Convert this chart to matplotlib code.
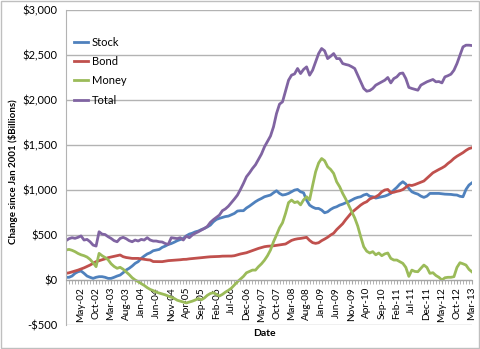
import matplotlib
matplotlib.use("Agg")
import matplotlib.pyplot as plt
import matplotlib.ticker as mticker
from matplotlib.patches import Rectangle
import pandas as pd

# monthly values, Dec-01 .. Mar-13 ($ billions, change since Jan 2001)
months = pd.date_range("2001-12-01", "2013-03-01", freq="MS")

stock = [30, 30, 44, 74, 92, 100, 74, 44, 30, 18, 30, 37, 37, 30, 18, 18, 30, 44, 55, 81,
         111, 130, 155, 185, 204, 240, 266, 289, 303, 325, 333, 340, 363, 377, 395, 405, 420, 437, 450, 462,
         490, 510, 520, 535, 544, 560, 573, 590, 610, 647, 673, 685, 695, 705, 710, 725, 740, 766, 770, 770,
         800, 821, 845, 870, 890, 906, 925, 935, 944, 969, 992, 962, 944, 950, 962, 980, 999, 1006, 980, 969,
         888, 832, 810, 795, 795, 777, 747, 758, 784, 803, 814, 832, 843, 858, 870, 888, 906, 918, 925, 944,
         954, 930, 925, 910, 918, 925, 932, 945, 962, 999, 1029, 1066, 1092, 1066, 1018, 980, 965, 954, 932, 918,
         932, 962, 962, 962, 962, 958, 954, 952, 951, 946, 944, 930, 925, 1006, 1055, 1080]

bond = [74, 80, 90, 100, 110, 122, 135, 150, 166, 185, 204, 215, 225, 235, 248, 256, 263, 270, 278, 259,
        250, 245, 240, 240, 240, 235, 229, 225, 222, 205, 204, 204, 204, 210, 215, 218, 220, 222, 225, 229,
        230, 235, 238, 240, 245, 248, 252, 255, 258, 259, 260, 262, 265, 266, 266, 266, 270, 280, 289, 296,
        303, 315, 326, 338, 351, 360, 370, 375, 377, 380, 385, 389, 395, 400, 420, 440, 451, 458, 462, 468,
        474, 440, 415, 407, 414, 437, 455, 475, 500, 520, 560, 592, 625, 670, 710, 750, 777, 805, 833, 855,
        870, 900, 915, 925, 945, 980, 1000, 1006, 969, 975, 985, 992, 1005, 1030, 1055, 1050, 1060, 1073, 1085, 1100,
        1130, 1160, 1191, 1210, 1228, 1245, 1265, 1295, 1320, 1351, 1375, 1395, 1415, 1440, 1460, 1470]

money = [333, 340, 330, 315, 295, 280, 270, 255, 229, 192, 148, 296, 270, 250, 225, 180, 150, 130, 141, 120,
         90, 60, 25, 0, -18, -40, -60, -85, -105, -118, -135, -145, -155, -165, -178, -190, -205, -225, -235, -245,
         -255, -245, -235, -222, -205, -220, -200, -170, -150, -141, -160, -178, -160, -135, -115, -90, -55, -20, 10, 40,
         80, 95, 110, 110, 148, 180, 220, 270, 333, 425, 500, 580, 636, 740, 860, 888, 860, 870, 835, 890,
         925, 890, 1050, 1202, 1300, 1350, 1325, 1258, 1228, 1184, 1091, 1036, 962, 900, 830, 760, 690, 600, 480, 370,
         320, 300, 315, 280, 300, 270, 290, 300, 240, 222, 222, 204, 185, 140, 40, 110, 95, 92, 130, 166,
         140, 74, 81, 50, 30, 0, 25, 30, 30, 37, 140, 192, 180, 166, 118, 90]

total = [437, 459, 470, 463, 474, 490, 444, 451, 425, 388, 377, 536, 510, 505, 481, 462, 437, 425, 462, 474,
         459, 437, 425, 444, 433, 451, 444, 470, 444, 433, 433, 425, 422, 405, 395, 470, 465, 460, 470, 444,
         488, 470, 500, 520, 536, 555, 573, 595, 640, 670, 695, 721, 770, 790, 820, 860, 900, 943, 1006, 1073,
         1147, 1190, 1239, 1280, 1340, 1400, 1480, 1540, 1600, 1702, 1850, 1954, 1980, 2100, 2220, 2276, 2290, 2350, 2294, 2340,
         2368, 2276, 2331, 2424, 2516, 2572, 2546, 2460, 2486, 2516, 2460, 2460, 2405, 2395, 2387, 2370, 2350, 2276, 2202, 2128,
         2098, 2105, 2128, 2165, 2183, 2200, 2220, 2250, 2190, 2238, 2257, 2294, 2300, 2238, 2140, 2128, 2118, 2109, 2165, 2183,
         2202, 2215, 2228, 2202, 2205, 2190, 2257, 2270, 2287, 2331, 2405, 2498, 2590, 2609, 2609, 2605]

series_names = ["Stock", "Bond", "Money", "Total"]
series_colors = ["#4F81BD", "#C0504D", "#9BBB59", "#8064A2"]

plt.rcParams['font.family'] = ['Lato', 'DejaVu Sans']

fig = plt.figure(figsize=(4.8, 3.49), dpi=100)
ax = fig.add_axes([66 / 480, 1 - 325 / 349, 406 / 480, 315 / 349])

x = list(range(len(months)))
for name, vals, col in zip(series_names, [stock, bond, money, total], series_colors):
    ax.plot(x, vals, color=col, lw=2.0, label=name, solid_joinstyle='round')

ax.set_xlim(0, len(months) - 1)
ax.set_ylim(-500, 3000)
ax.yaxis.set_major_locator(mticker.MultipleLocator(500))
ax.yaxis.set_major_formatter(mticker.FuncFormatter(
    lambda v, p: f"-${abs(v):,.0f}" if v < 0 else f"${v:,.0f}"))
ax.grid(axis='y', color='#b3b3b3', lw=1)
ax.set_axisbelow(True)

# x axis sits at $0 like the Excel chart
ax.spines['bottom'].set_position(('data', 0))
ax.spines['bottom'].set_color('#a6a6a6')
ax.spines['left'].set_color('#b3b3b3')
ax.spines['top'].set_visible(False)
ax.spines['right'].set_visible(False)

label_idx = list(range(5, len(months), 5))
ax.set_xticks(label_idx)
ax.set_xticklabels([months[i].strftime("%b-%y") for i in label_idx], rotation=90, fontsize=7.2)
ax.set_xticks(x, minor=True)
ax.tick_params(axis='x', which='both', length=3, color='#a6a6a6', pad=2)
ax.tick_params(axis='y', length=0, labelsize=8, pad=6)

ax.set_ylabel("Change since Jan 2001 ($Billions)", fontsize=7, fontweight='bold')
ax.yaxis.set_label_coords(-0.118, (325 - 172) / 315)
fig.text(0.55, 1 - 333 / 349, "Date", fontsize=7.5, fontweight='bold', ha='center', va='center')

ax.legend(loc='upper left', bbox_to_anchor=(0.0, 0.94), frameon=False, fontsize=8,
          handlelength=1.3, handletextpad=0.3, labelspacing=0.75, borderaxespad=0.3)

fig.patches.append(Rectangle((0.002, 0.003), 0.995, 0.994, transform=fig.transFigure,
                             fill=False, edgecolor='#bfbfbf', lw=1))

fig.savefig("out.png", dpi=100)
